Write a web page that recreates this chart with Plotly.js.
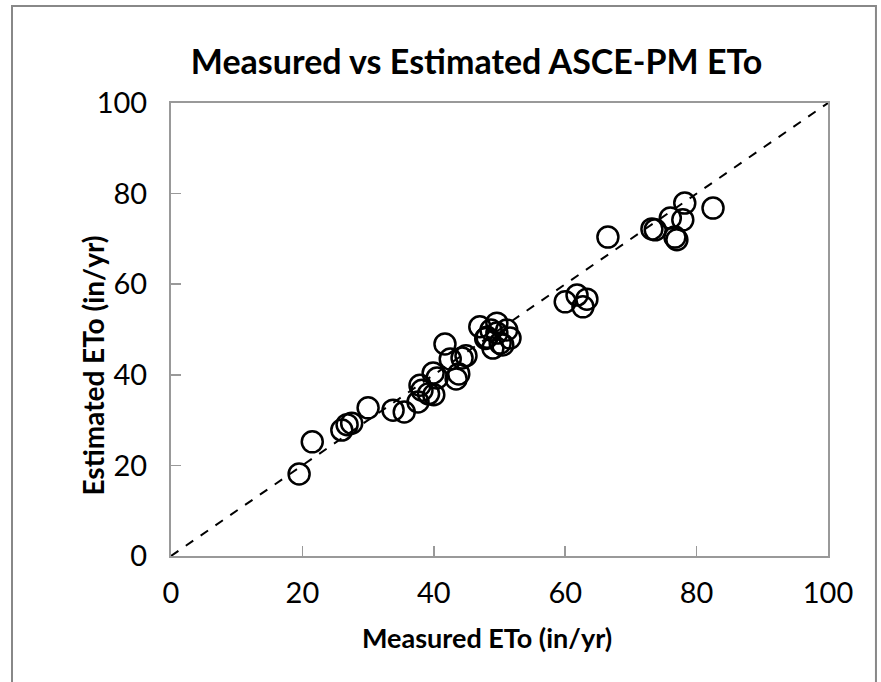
<!DOCTYPE html>
<html>
<head>
<meta charset="utf-8">
<script src="https://cdn.plot.ly/plotly-3.0.1.min.js"></script>
<style>html,body{margin:0;padding:0;background:#fff;}#chart{width:881px;height:682px;}</style>
</head>
<body>
<div id="chart"></div>
<script>
// Measured ETo (in/yr)
var measured = [19.5, 21.5, 26.0, 26.8, 27.5, 30.0, 33.8, 35.5, 37.6, 38.2, 37.9, 39.2, 40.0, 39.9, 40.5,
  41.7, 42.5, 43.4, 43.8, 44.3, 44.9, 47.0, 49.6, 51.1, 50.1, 48.1, 51.6, 49.0, 49.6, 50.5, 48.7, 47.9,
  60.0, 61.8, 62.7, 63.3, 66.5, 73.2, 73.7, 76.0, 78.2, 77.9, 77.0, 76.7, 82.5];
// Estimated ETo (in/yr)
var estimated = [18.1, 25.2, 27.8, 29.0, 29.3, 32.7, 32.2, 31.8, 34.0, 36.6, 37.7, 35.8, 35.6, 40.4, 39.3,
  46.8, 43.5, 39.1, 40.2, 43.7, 44.2, 50.6, 51.4, 49.9, 47.0, 48.3, 48.1, 45.9, 49.2, 46.6, 49.9, 48.0,
  56.1, 57.6, 55.0, 56.7, 70.4, 72.2, 72.0, 74.6, 77.9, 74.2, 69.8, 70.4, 76.8];
var oneToOne = [0, 100];
var tickVals = [0, 20, 40, 60, 80, 100];

var font = "Lato, 'Open Sans', sans-serif";
var traces = [
  {x: oneToOne, y: oneToOne, mode: 'lines', type: 'scatter',
   line: {color: '#000', width: 2, dash: 'dash'}, hoverinfo: 'skip'},
  {x: measured, y: estimated, mode: 'markers', type: 'scatter',
   marker: {symbol: 'circle-open', size: 21, color: '#000', line: {width: 2.5, color: '#000'}}}
];
var axisCommon = {
  range: [0, 100], tickvals: tickVals, ticks: 'inside', ticklen: 10, tickcolor: '#999', tickwidth: 1.5,
  showline: true, linecolor: '#999', linewidth: 2, mirror: true, showgrid: false, zeroline: false,
  tickfont: {family: font, size: 29, color: '#000'}, fixedrange: true
};
var layout = {
  width: 881, height: 682,
  margin: {l: 171, r: 53, t: 103, b: 126},
  paper_bgcolor: '#fff', plot_bgcolor: '#fff',
  showlegend: false,
  title: {text: '<b>Measured vs Estimated ASCE-PM ETo</b>', x: 0.541, xanchor: 'center', y: 0.909, yanchor: 'middle',
          font: {family: font, size: 34, color: '#000'}},
  xaxis: Object.assign({}, axisCommon, {ticklabelstandoff: 10}),
  yaxis: Object.assign({}, axisCommon, {ticklabelstandoff: 16}),
  annotations: [
    {text: '<b>Estimated ETo (in/yr)</b>', xref: 'paper', yref: 'paper', x: -0.119, y: 0.42,
     xanchor: 'center', yanchor: 'middle', textangle: -90, showarrow: false,
     font: {family: font, size: 28, color: '#000'}},
    {text: '<b>Measured ETo (in/yr)</b>', xref: 'paper', yref: 'paper', x: 0.481, y: -0.179,
     xanchor: 'center', yanchor: 'middle', showarrow: false,
     font: {family: font, size: 27, color: '#000'}}
  ],
  shapes: [{type: 'rect', xref: 'paper', yref: 'paper', x0: -0.242, x1: 1.073, y0: -0.35, y1: 1.214,
            line: {color: '#888', width: 2}, fillcolor: 'rgba(0,0,0,0)', layer: 'below'}]
};
Plotly.newPlot('chart', traces, layout, {displayModeBar: false, staticPlot: true});
</script>
</body>
</html>
